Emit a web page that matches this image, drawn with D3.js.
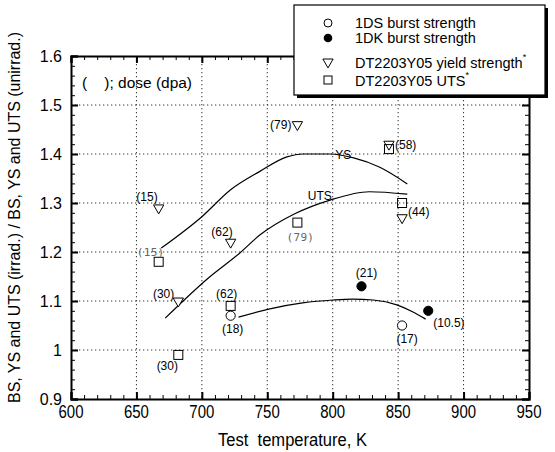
<!DOCTYPE html>
<html><head><meta charset="utf-8">
<script src="https://cdn.jsdelivr.net/npm/d3@7"></script>
<style>
body{margin:0;background:#fff}
svg{font-family:"Liberation Sans",Arial,sans-serif}
</style></head><body>
<svg width="555" height="452"></svg>
<script>
var xTicks = [600, 650, 700, 750, 800, 850, 900, 950];
var yTicks = [0.9, 1.0, 1.1, 1.2, 1.3, 1.4, 1.5, 1.6];

// 1DS burst strength (open circles)
var dsTemp = [722, 853];
var dsRatio = [1.07, 1.05];
var dsDose = ["(18)", "(17)"];

// 1DK burst strength (filled circles)
var dkTemp = [822, 873];
var dkRatio = [1.13, 1.08];
var dkDose = ["(21)", "(10.5)"];

// DT2203Y05 yield strength (triangles)
var ysTemp = [667, 682, 722, 773, 843, 853];
var ysRatio = [1.29, 1.10, 1.22, 1.46, 1.42, 1.27];
var ysDose = ["(15)", "(30)", "(62)", "(79)", "(58)", "(44)"];

// DT2203Y05 UTS (squares)
var utsTemp = [667, 682, 722, 773, 843, 853];
var utsRatio = [1.18, 0.99, 1.09, 1.26, 1.41, 1.30];
var utsDose = ["(15)", "(30)", "(62)", "(79)", "", ""];

// trend curves
var ysCurveT = [669, 700, 722, 744, 765, 777, 798, 816, 836, 857];
var ysCurveV = [1.208, 1.272, 1.327, 1.364, 1.394, 1.400, 1.400, 1.392, 1.373, 1.339];
var utsCurveT = [672, 705, 729, 744, 771, 798, 828, 857];
var utsCurveV = [1.065, 1.147, 1.198, 1.234, 1.278, 1.306, 1.323, 1.318];
var bsCurveT = [728, 752, 777, 800, 815, 831, 849, 861, 871];
var bsCurveV = [1.067, 1.084, 1.096, 1.102, 1.104, 1.102, 1.092, 1.078, 1.063];

var legendNames = ["1DS burst strength", "1DK burst strength", "DT2203Y05 yield strength", "DT2203Y05 UTS"];

// label placement (layout only): [dx, dy, anchor]
var dsLab = [[2, 17, "middle"], [5, 17, "middle"]];
var dkLab = [[5, -9, "middle"], [5, 16, "start"]];
var ysLab = [[-1, -7, "end"], [-4, -3, "end"], [2, -6, "end"], [-6, 4, "end"], [6, 5, "start"], [6, -2, "start"]];
var utsLab = [[-8, -6, "middle"], [-11, 15, "middle"], [-4, -8, "middle"], [3, 18, "middle"]];
var utsLabGrey = [true, false, false, true];

var svg = d3.select("svg");

var plotL = 71, plotR = 529, plotT = 56, plotB = 399;
var x = d3.scaleLinear().domain([600, 950]).range([plotL, plotR]);
var y = d3.scaleLinear().domain([0.9, 1.6]).range([plotB, plotT]);

// grid
svg.append("g")
.selectAll("line").data(xTicks.slice(1, -1)).enter().append("line")
.attr("x1", d => x(d)).attr("x2", d => x(d))
.attr("y1", plotT).attr("y2", plotB)
.attr("stroke", "#333").attr("stroke-width", 1).attr("stroke-dasharray", "1.3,2.7");

svg.append("g")
.selectAll("line").data(yTicks.slice(1, -1)).enter().append("line")
.attr("y1", d => y(d)).attr("y2", d => y(d))
.attr("x1", plotL).attr("x2", plotR)
.attr("stroke", "#333").attr("stroke-width", 1).attr("stroke-dasharray", "1.3,2.7");

// curves
var line = d3.line().x(d => x(d[0])).y(d => y(d[1])).curve(d3.curveMonotoneX);
[[ysCurveT, ysCurveV], [utsCurveT, utsCurveV], [bsCurveT, bsCurveV]].forEach(function (c) {
	svg.append("path")
	.attr("d", line(d3.zip(c[0], c[1])))
	.attr("fill", "none").attr("stroke", "#000").attr("stroke-width", 1.2);
});

svg.append("text").text("YS").attr("x", x(802)).attr("y", y(1.39))
.attr("font-size", "12px");
svg.append("text").text("UTS").attr("x", x(781)).attr("y", y(1.306))
.attr("font-size", "12px");

// markers
var tri = d3.symbol().type(d3.symbolTriangle).size(46);

function circles(t, v, fill) {
	svg.append("g").selectAll("circle").data(t).enter().append("circle")
	.attr("cx", d => x(d)).attr("cy", (d, i) => y(v[i])).attr("r", 4.6)
	.attr("fill", fill).attr("stroke", "#000").attr("stroke-width", 1);
}
circles(dsTemp, dsRatio, "#fff");
circles(dkTemp, dkRatio, "#000");

svg.append("g").selectAll("path").data(ysTemp).enter().append("path")
.attr("d", tri)
.attr("transform", (d, i) => "translate(" + x(d) + "," + y(ysRatio[i]) + ") rotate(180)")
.attr("fill", "#fff").attr("stroke", "#000").attr("stroke-width", 1);

svg.append("g").selectAll("rect").data(utsTemp).enter().append("rect")
.attr("x", d => x(d) - 4.5).attr("y", (d, i) => y(utsRatio[i]) - 4.5)
.attr("width", 9).attr("height", 9)
.attr("fill", "none").attr("stroke", "#000").attr("stroke-width", 1);

// dose labels
function labels(t, v, names, pos, grey) {
	names.forEach(function (n, i) {
		if (!n) return;
		var g = grey && grey[i];
		svg.append("text").text(n)
		.attr("x", x(t[i]) + pos[i][0]).attr("y", y(v[i]) + pos[i][1])
		.attr("text-anchor", pos[i][2])
		.attr("font-size", g ? "11px" : "12px")
		.attr("font-family", g ? "'DejaVu Sans Mono', monospace" : null)
		.attr("letter-spacing", g ? "0.3px" : null)
		.attr("fill", g ? "#666" : "#000");
	});
}
labels(dsTemp, dsRatio, dsDose, dsLab);
labels(dkTemp, dkRatio, dkDose, dkLab);
labels(ysTemp, ysRatio, ysDose, ysLab);
labels(utsTemp, utsRatio, utsDose, utsLab, utsLabGrey);

// axes and frame
var xMinor = d3.range(600, 951, 10);
var yMinor = d3.range(90, 161, 2).map(d => d / 100);

function axisPair(axis, scale, major, minor, tr) {
	var g = svg.append("g").attr("transform", tr);
	g.call(axis(scale).tickValues(minor).tickSize(-4).tickFormat(""));
	g.select(".domain").remove();
	var g2 = svg.append("g").attr("transform", tr);
	g2.call(axis(scale).tickValues(major).tickSize(-7).tickFormat(""));
	g2.selectAll(".tick line").attr("stroke-width", 2);
	g2.select(".domain").attr("stroke-width", 2);
}
axisPair(d3.axisBottom, x, xTicks, xMinor, "translate(0," + plotB + ")");
axisPair(d3.axisTop, x, xTicks, xMinor, "translate(0," + plotT + ")");
axisPair(d3.axisLeft, y, yTicks, yMinor, "translate(" + plotL + ",0)");
axisPair(d3.axisRight, y, yTicks, yMinor, "translate(" + plotR + ",0)");

// tick labels
svg.append("g").selectAll("text").data(xTicks).enter().append("text")
.text(d => d).attr("x", d => x(d) - 12.5).attr("y", plotB + 19)
.attr("font-size", "18.5px")
.attr("textLength", 25).attr("lengthAdjust", "spacingAndGlyphs");

svg.append("g").selectAll("text").data(yTicks).enter().append("text")
.text(d => d3.format("")(d)).attr("x", plotL - 9).attr("y", d => y(d) + 5.5)
.attr("text-anchor", "end").attr("font-size", "16px");

svg.append("text").text("Test  temperature, K")
.attr("x", 218).attr("y", 446)
.attr("font-size", "17.5px")
.attr("textLength", 149).attr("lengthAdjust", "spacingAndGlyphs")
.style("white-space", "pre");

svg.append("text").text("BS, YS and UTS (irrad.) / BS, YS and UTS (unirrad.)")
.attr("transform", "translate(20,403) rotate(-90)")
.attr("font-size", "16px")
.attr("textLength", 371).attr("lengthAdjust", "spacingAndGlyphs");

svg.append("text").text("(    ); dose (dpa)")
.attr("x", 82).attr("y", 88).attr("font-size", "15.5px")
.attr("textLength", 110).attr("lengthAdjust", "spacingAndGlyphs")
.style("white-space", "pre");

// legend
var lg = svg.append("g");
lg.append("rect").attr("x", 297).attr("y", 8).attr("width", 251).attr("height", 90).attr("fill", "#000");
lg.append("rect").attr("x", 294).attr("y", 5).attr("width", 251).attr("height", 90)
.attr("fill", "#fff").attr("stroke", "#000").attr("stroke-width", 1.2);

var legY = [23, 38, 62, 80];
var legBase = [28, 43, 68, 86];
lg.append("circle").attr("cx", 328).attr("cy", legY[0]).attr("r", 4).attr("fill", "#fff").attr("stroke", "#000");
lg.append("circle").attr("cx", 328).attr("cy", legY[1]).attr("r", 4.3).attr("fill", "#000");
lg.append("path").attr("d", tri).attr("transform", "translate(328," + legY[2] + ") rotate(180)")
.attr("fill", "#fff").attr("stroke", "#000");
lg.append("rect").attr("x", 324).attr("y", legY[3] - 4).attr("width", 8).attr("height", 8)
.attr("fill", "none").attr("stroke", "#000");

legendNames.forEach(function (n, i) {
	var t = lg.append("text").attr("x", 355).attr("y", legBase[i]).attr("font-size", "14.5px").text(n);
	if (i >= 2) {
		t.append("tspan").text("*").attr("font-size", "9px").attr("dy", -8);
	}
});
</script>
</body></html>
